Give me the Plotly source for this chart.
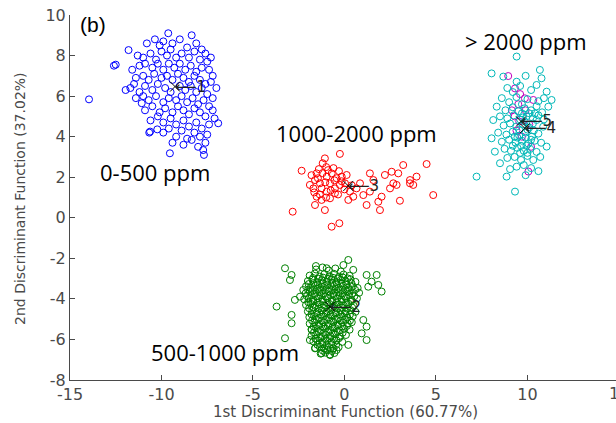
import plotly.graph_objects as go

# ---- data ----
blue_pts = [(-13.96,5.84),(-12.5,7.55),(-12.6,7.5),(-11.8,8.27),(-11.96,6.3),(-11.5,6.6),(-11.08,5.65),
    (-10.67,4.2),(-10.62,4.25),(-10.23,4.36),(-9.54,3.18),(-8.35,3.84),(-7.72,3.34),(-7.68,3.1),(-6.9,4.66),
    (-9.63,9.1),(-8.35,9.0),(-10.36,8.8),
    (-10.8,8.6),(-10.1,8.5),(-9.9,8.7),(-9.4,8.6),(-9.0,8.8),(-8.6,8.4),(-8.1,8.6),(-7.8,8.3),(-7.6,8.1),
    (-11.3,8.0),(-11.0,7.9),(-10.6,8.1),(-10.3,7.8),(-10.0,8.2),(-9.7,8.0),(-9.5,8.3),(-9.2,7.9),(-8.9,8.1),
    (-8.5,7.9),(-8.2,8.2),(-7.9,7.8),(-7.5,7.7),(-7.3,7.9),
    (-11.6,7.3),(-11.2,7.5),(-10.9,7.6),(-10.5,7.4),(-10.2,7.6),(-9.9,7.3),(-9.6,7.6),(-9.3,7.4),(-9.0,7.6),
    (-8.7,7.3),(-8.4,7.5),(-8.1,7.2),(-7.8,7.4),(-7.4,7.3),(-7.2,7.0),
    (-11.4,6.9),(-11.0,7.0),(-10.7,6.8),(-10.4,7.1),(-10.0,6.9),(-9.7,7.0),(-9.4,6.8),(-9.1,7.1),(-8.8,6.9),
    (-8.5,6.7),(-8.2,7.0),(-7.9,6.8),(-7.6,6.6),(-7.3,6.7),(-7.0,6.4),
    (-11.7,6.4),(-11.2,6.2),(-10.9,6.5),(-10.5,6.3),(-10.2,6.6),(-9.8,6.4),(-9.5,6.2),(-9.0,6.5),(-8.7,6.3),
    (-8.4,6.5),(-8.1,6.2),(-7.8,6.4),(-7.5,6.1),(-7.2,5.9),
    (-11.4,5.9),(-11.0,6.0),(-10.7,5.8),(-10.3,6.0),(-9.9,5.7),(-9.6,5.9),(-9.2,5.8),(-8.9,6.0),(-8.6,5.7),
    (-8.3,5.9),(-8.0,5.6),(-7.7,5.8),(-7.4,5.5),
    (-10.9,5.3),(-10.5,5.5),(-10.1,5.2),(-9.8,5.4),(-9.4,5.2),(-9.1,5.5),(-8.8,5.3),(-8.5,5.1),(-8.2,5.4),
    (-7.9,5.2),(-7.6,5.0),(-7.2,5.3),
    (-10.6,4.8),(-10.2,5.0),(-9.9,4.7),(-9.5,4.9),(-9.2,4.6),(-8.8,4.8),(-8.5,4.5),(-8.1,4.7),(-7.8,4.4),
    (-7.4,4.6),(-7.1,4.9),
    (-9.9,4.2),(-9.6,4.4),(-9.2,4.0),(-8.9,4.3),(-8.6,3.9),(-8.2,4.2),(-7.9,4.0),(-7.5,4.1),(-9.4,3.7),
    (-8.8,3.6),(-8.0,3.5),(-7.6,3.7)]

green_pts = [(-3.25,-2.49),(-2.89,-2.82),(-2.98,-3.07),(-1.56,-2.38),(-0.97,-2.49),(-0.06,-2.33),(0.21,-2.08),
    (0.48,-2.57),(1.21,-2.82),(1.76,-2.82),(1.48,-3.15),(2.03,-3.64),(1.85,-3.31),(1.30,-3.40),(-3.71,-4.38),
    (-2.89,-4.79),(-2.89,-5.20),(-3.25,-5.94),(-2.25,-3.56),(-2.43,-3.89),(-2.71,-4.05),(1.03,-5.04),
    (1.21,-5.37),(0.94,-5.70),(1.21,-6.03),(0.21,-6.27),(-0.43,-6.52),(-0.79,-6.77),(-1.25,-6.68),
    (-1.61,-6.44),(-1.89,-6.03),(-1.79,-5.53),
    (-1.55,-2.55),(-1.2,-2.45),(-0.85,-2.6),(-0.5,-2.5),(-0.2,-2.65),
    (-1.9,-2.85),(-1.62,-2.75),(-1.35,-2.9),(-1.1,-2.78),(-0.82,-2.88),(-0.58,-2.76),(-0.3,-2.9),(-0.05,-2.8),(0.28,-2.86),
    (-2.0,-3.12),(-1.75,-3.05),(-1.5,-3.18),(-1.24,-3.08),(-0.98,-3.15),(-0.72,-3.04),(-0.45,-3.17),(-0.2,-3.06),
    (0.06,-3.14),(0.33,-3.03),(0.6,-3.16),
    (-2.1,-3.38),(-1.85,-3.45),(-1.6,-3.35),(-1.34,-3.44),(-1.08,-3.36),(-0.83,-3.46),(-0.57,-3.37),(-0.32,-3.45),
    (-0.06,-3.35),(0.2,-3.44),(0.46,-3.38),(0.72,-3.46),
    (-2.12,-3.72),(-1.88,-3.66),(-1.62,-3.75),(-1.37,-3.67),(-1.12,-3.74),(-0.86,-3.65),(-0.6,-3.76),(-0.35,-3.68),
    (-0.1,-3.73),(0.16,-3.66),(0.42,-3.75),(0.8,-3.7),
    (-2.2,-4.02),(-1.95,-3.96),(-1.7,-4.05),(-1.44,-3.97),(-1.18,-4.04),(-0.92,-3.95),(-0.66,-4.06),(-0.4,-3.98),
    (-0.15,-4.03),(0.1,-3.95),(0.38,-4.05),(0.68,-3.98),
    (-2.1,-4.3),(-1.85,-4.24),(-1.6,-4.34),(-1.34,-4.26),(-1.08,-4.33),(-0.82,-4.25),(-0.56,-4.35),(-0.3,-4.27),
    (-0.04,-4.32),(0.22,-4.24),(0.5,-4.34),
    (-2.0,-4.62),(-1.75,-4.56),(-1.5,-4.65),(-1.24,-4.57),(-0.98,-4.64),(-0.72,-4.55),(-0.46,-4.66),(-0.2,-4.58),
    (0.06,-4.63),(0.34,-4.56),(0.6,-4.64),
    (-1.92,-4.9),(-1.66,-4.85),(-1.4,-4.94),(-1.14,-4.86),(-0.88,-4.93),(-0.62,-4.84),(-0.36,-4.95),(-0.1,-4.87),
    (0.16,-4.92),(0.45,-4.86),
    (-1.9,-5.22),(-1.64,-5.15),(-1.38,-5.24),(-1.12,-5.16),(-0.86,-5.23),(-0.6,-5.14),(-0.34,-5.25),(-0.08,-5.17),
    (0.18,-5.22),(0.4,-5.15),
    (-1.8,-5.5),(-1.55,-5.45),(-1.3,-5.54),(-1.04,-5.46),(-0.78,-5.53),(-0.52,-5.44),(-0.26,-5.55),(0.0,-5.47),(0.28,-5.52),
    (-1.8,-5.82),(-1.54,-5.76),(-1.28,-5.85),(-1.02,-5.77),(-0.76,-5.84),(-0.5,-5.75),(-0.24,-5.86),(0.08,-5.78),
    (-1.7,-6.1),(-1.45,-6.05),(-1.2,-6.14),(-0.95,-6.06),(-0.7,-6.13),(-0.44,-6.04),(-0.12,-6.12),
    (-1.6,-6.42),(-1.35,-6.36),(-1.1,-6.45),(-0.85,-6.37),(-0.6,-6.44),(-0.32,-6.38),
    (-1.3,-6.7),(-1.05,-6.65),(-0.8,-6.74),(-0.55,-6.67),
    # denser core
    (-1.72,-2.97),(-1.44,-3.0),(-1.17,-2.95),(-0.9,-3.01),(-0.63,-2.96),(-0.37,-3.0),(-0.1,-2.94),(0.18,-2.99),
    (-1.96,-3.27),(-1.7,-3.22),(-1.45,-3.28),(-1.2,-3.23),(-0.94,-3.29),(-0.68,-3.21),(-0.42,-3.27),(-0.16,-3.22),(0.1,-3.28),(0.38,-3.22),
    (-1.99,-3.55),(-1.73,-3.58),(-1.48,-3.52),(-1.23,-3.59),(-0.97,-3.53),(-0.71,-3.58),(-0.46,-3.52),(-0.2,-3.57),(0.05,-3.53),(0.3,-3.58),(0.58,-3.55),
    (-2.05,-3.86),(-1.8,-3.82),(-1.55,-3.88),(-1.29,-3.83),(-1.03,-3.89),(-0.77,-3.82),(-0.52,-3.87),(-0.26,-3.83),(0.0,-3.88),(0.26,-3.82),(0.54,-3.87),
    (-1.98,-4.16),(-1.73,-4.12),(-1.47,-4.18),(-1.21,-4.13),(-0.95,-4.19),(-0.69,-4.12),(-0.43,-4.17),(-0.17,-4.13),(0.09,-4.18),(0.36,-4.12),
    (-1.93,-4.46),(-1.68,-4.42),(-1.42,-4.48),(-1.16,-4.43),(-0.9,-4.49),(-0.64,-4.42),(-0.38,-4.47),(-0.12,-4.43),(0.14,-4.48),(0.42,-4.43),
    (-1.8,-4.76),(-1.54,-4.72),(-1.28,-4.78),(-1.02,-4.73),(-0.76,-4.79),(-0.5,-4.72),(-0.24,-4.77),(0.02,-4.73),(0.3,-4.77),
    (-1.77,-5.06),(-1.52,-5.02),(-1.26,-5.08),(-1.0,-5.03),(-0.74,-5.09),(-0.48,-5.02),(-0.22,-5.07),(0.04,-5.03),(0.3,-5.07),
    (-1.68,-5.36),(-1.43,-5.32),(-1.17,-5.38),(-0.91,-5.33),(-0.65,-5.39),(-0.39,-5.32),(-0.13,-5.37),(0.14,-5.33),
    (-1.67,-5.66),(-1.41,-5.62),(-1.15,-5.68),(-0.89,-5.63),(-0.63,-5.69),(-0.37,-5.62),(-0.1,-5.67),
    (-1.58,-5.96),(-1.33,-5.92),(-1.07,-5.98),(-0.82,-5.93),(-0.57,-5.99),(-0.3,-5.94),
    (-1.48,-6.26),(-1.22,-6.22),(-0.97,-6.28),(-0.72,-6.23),(-0.46,-6.27),
    (-1.18,-6.55),(-0.93,-6.52),(-0.68,-6.57)]

red_pts = [(-2.34,2.32),(-1.52,2.19),(-1.07,2.93),(-1.19,2.69),(-0.25,3.15),(-1.61,1.86),(-1.34,1.70),(-0.97,2.03),
    (-0.70,2.19),(-0.43,1.95),(-0.15,2.03),(0.12,2.11),(-0.79,1.70),(-0.52,1.45),(-0.25,1.62),(0.03,1.70),
    (-1.25,1.45),(-0.97,1.29),(-1.70,1.45),(-1.89,1.62),(-1.52,1.04),(-1.25,0.88),(-1.61,0.63),(-1.07,0.38),
    (-0.79,0.96),(-0.52,1.21),(0.30,1.29),(0.48,1.04),(0.66,1.45),(0.21,0.88),(-2.83,0.30),(-0.70,-0.44),
    (-0.28,-0.27),(1.39,2.19),(2.21,2.11),(2.94,2.19),(3.21,2.60),(4.49,2.65),(3.94,2.03),(3.58,1.70),
    (2.67,1.70),(2.49,1.45),(2.85,1.62),(1.39,1.29),(1.85,0.79),(2.03,1.04),(1.21,0.63),(1.94,0.38),
    (3.03,0.84),(4.85,1.12),(1.58,1.86),(0.85,1.70),(1.03,1.12),(3.58,1.86),(3.76,1.62),(2.58,2.27),
    (-1.4,2.4),(-1.0,2.5),(-0.6,2.45),(-1.2,2.2),(-0.3,2.3),(-1.45,1.95),(-1.05,1.75),(-0.55,1.85),
    (-0.15,1.8),(-1.65,1.25),(-1.35,1.15),(-0.75,1.35),(-0.35,1.15),(-1.0,1.0),(0.0,1.4),(0.4,1.6),
    (-1.8,2.1),(-0.9,2.35)]

magenta_pts = [(8.95,6.99),(9.32,6.38),(9.86,5.89),(10.32,5.81),(10.05,2.28),(9.5,5.6),(9.3,5.0),(9.55,4.75),
    (9.4,4.3),(9.7,4.0),(10.1,4.6),(9.6,6.1),(9.15,5.3),(10.2,3.5),(9.9,5.3)]

cyan_pts = [(8.04,7.12),(8.68,6.96),(9.41,6.71),(10.68,7.29),(10.77,6.88),(9.41,7.95),(9.9,7.0),
    (8.9,6.4),(9.6,6.5),(10.2,6.3),(10.5,6.55),(11.05,6.22),(9.2,6.2),
    (8.6,5.9),(9.0,5.7),(9.4,5.95),(9.7,5.6),(10.0,5.85),(10.6,5.75),(11.32,5.81),(10.9,5.9),
    (8.32,5.48),(8.8,5.3),(9.2,5.45),(9.5,5.25),(9.85,5.4),(10.2,5.3),(10.5,5.5),(11.14,5.48),(10.8,5.2),
    (8.5,5.0),(8.9,4.9),(9.25,5.05),(9.6,4.85),(9.95,5.0),(10.3,4.9),(10.6,5.05),(10.9,4.85),
    (8.13,4.82),(8.7,4.55),(9.05,4.65),(9.4,4.5),(9.75,4.6),(10.1,4.45),(10.5,4.82),(10.86,4.49),(10.3,4.65),
    (8.4,4.2),(8.85,4.1),(9.2,4.25),(9.55,4.05),(9.9,4.2),(10.25,4.0),(10.6,4.15),
    (8.04,3.92),(8.6,3.75),(9.0,3.85),(9.35,3.7),(9.7,3.8),(10.05,3.65),(10.4,3.8),(10.75,3.7),
    (8.22,3.26),(8.75,3.4),(9.1,3.3),(9.45,3.45),(9.8,3.3),(10.15,3.4),(10.5,3.25),(11.05,3.51),
    (8.9,2.95),(9.3,3.0),(9.65,2.85),(10.0,3.05),(10.32,2.85),(10.7,3.0),
    (8.5,2.69),(9.41,2.52),(9.8,2.6),(10.2,2.45),(9.05,2.4),
    (7.22,2.03),(8.86,2.03),(9.9,2.1),(10.6,2.3),(9.32,1.29),
    (9.55,4.35),(9.85,4.75),(10.0,4.35),(9.65,3.55),(9.95,3.55),(10.2,3.85),(9.3,4.0),(9.75,4.95),
    (10.1,5.15),(9.45,3.95),(9.9,3.95),(10.35,4.3),(9.2,3.55),(9.6,3.2),(10.0,3.2),(9.7,5.15),(10.4,5.15)]

centroid_x = [-9.26, -0.79, 0.21, 9.86, 9.65]
centroid_y = [6.47, -4.38, 1.57, 4.41, 4.75]
centroid_labels = ["1", "2", "3", "4", "5"]

group_labels = ["0-500 ppm", "500-1000 ppm", "1000-2000 ppm", "> 2000 ppm"]
group_label_x = [-10.36, -6.53, 0.68, 9.92]
group_label_y = [2.26, -6.62, 4.18, 8.72]

x_ticks = [-15, -10, -5, 0, 5, 10]
x_tick_text = ["-15", "-10", "-5", "0", "5", "10"]
y_ticks = [-8, -6, -4, -2, 0, 2, 4, 6, 8, 10]
y_tick_text = ["-8", "-6", "-4", "-2", "0", "2", "4", "6", "8", "10"]

GRAY = "#4a4a4a"
TICKFONT = dict(family="DejaVu Sans", size=16, color=GRAY)

fig = go.Figure()

def add_group(pts, color):
    fig.add_trace(go.Scatter(
        x=[p[0] for p in pts], y=[p[1] for p in pts], mode="markers",
        marker=dict(symbol="circle-open", size=7, color=color, line=dict(width=1, color=color)),
        showlegend=False, hoverinfo="skip"))

add_group(blue_pts, "#0000ff")
add_group(green_pts, "#008000")
add_group(red_pts, "#ff0000")
add_group(magenta_pts, "#c000c0")
add_group(cyan_pts, "#00b8b8")

fig.add_trace(go.Scatter(
    x=centroid_x, y=centroid_y, mode="markers",
    marker=dict(symbol="x-thin-open", size=10, color="black", line=dict(width=1, color="black")),
    showlegend=False, hoverinfo="skip"))

annotations = []
for cx, cy, lab in zip(centroid_x, centroid_y, centroid_labels):
    annotations.append(dict(x=cx, y=cy, xref="x", yref="y", text="\u27f5" + lab, showarrow=False,
                            xanchor="left", yanchor="middle", xshift=-2,
                            font=dict(family="DejaVu Sans", size=15, color="#222222")))

for lab, lx, ly in zip(group_labels, group_label_x, group_label_y):
    annotations.append(dict(x=lx, y=ly, xref="x", yref="y", text=lab, showarrow=False,
                            xanchor="center", yanchor="middle",
                            font=dict(family="Open Sans", size=22, color="black")))

annotations.append(dict(x=-14.56, y=9.51, xref="x", yref="y", text="(b)", showarrow=False,
                        xanchor="left", yanchor="middle",
                        font=dict(family="Liberation Sans", size=21, color="black")))

annotations.append(dict(x=(619 - 70) / 546, y=0, xref="paper", yref="paper", text="15", showarrow=False,
                        xanchor="center", yanchor="top", yshift=-2, font=TICKFONT))

annotations.append(dict(x=0.5037, y=0, xref="paper", yref="paper", text="1st Discriminant Function (60.77%)",
                        showarrow=False, xanchor="center", yanchor="middle", yshift=-32,
                        font=dict(family="DejaVu Sans", size=15, color=GRAY)))
annotations.append(dict(x=0, y=0.496, xref="paper", yref="paper", text="2nd Discriminant Function (37.02%)",
                        showarrow=False, xanchor="center", yanchor="middle", xshift=-50, textangle=-90,
                        font=dict(family="DejaVu Sans", size=14, color=GRAY)))

fig.update_layout(
    width=616, height=423,
    margin=dict(l=70, r=0, t=15, b=43),
    paper_bgcolor="white", plot_bgcolor="white",
    annotations=annotations,
    xaxis=dict(range=[-15, 14.84], tickvals=x_ticks, ticktext=x_tick_text, showgrid=False, zeroline=False,
               showline=True, linecolor=GRAY, linewidth=1, ticks="inside", ticklen=5, tickcolor=GRAY,
               tickfont=TICKFONT),
    yaxis=dict(range=[-8, 10], tickvals=y_ticks, ticktext=y_tick_text, showgrid=False, zeroline=False,
               showline=True, linecolor=GRAY, linewidth=1, ticks="inside", ticklen=5, tickcolor=GRAY,
               tickfont=TICKFONT),
)

fig.write_html("out.html")
